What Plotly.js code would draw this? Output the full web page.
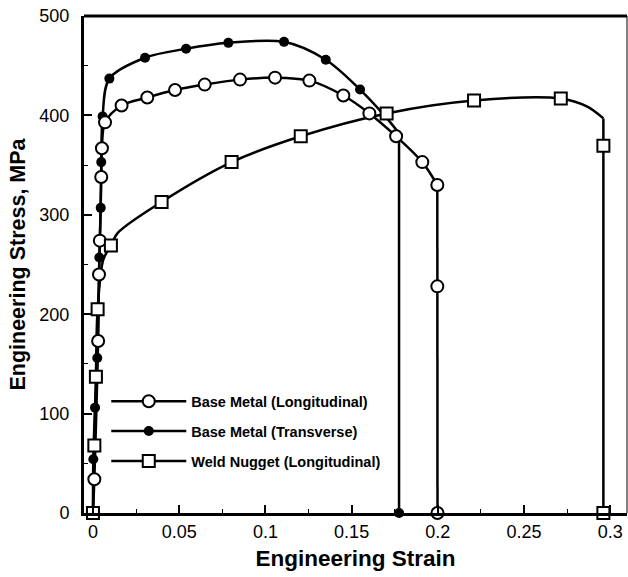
<!DOCTYPE html>
<html>
<head>
<meta charset="utf-8">
<script src="https://cdn.plot.ly/plotly-3.0.1.min.js"></script>
<style>html,body{margin:0;padding:0;background:#fff;}#chart{width:628px;height:577px;}</style>
</head>
<body>
<div id="chart"></div>
<script>
// ---- Data ----
// Base Metal (Longitudinal): curve path and marker points
var blCurveStrain = [0, 0.0008, 0.003, 0.0035, 0.004, 0.0048, 0.0052, 0.007, 0.0166, 0.0315, 0.0476, 0.0648, 0.0853, 0.1056, 0.1255, 0.1452, 0.1603, 0.1758, 0.191, 0.1997];
var blCurveStress = [0, 34, 173, 240, 274, 338, 367, 393, 410, 418, 425.5, 431, 436, 438, 435, 420, 402, 379, 353, 330];
var blDropStrain = [0.1997, 0.1997, 0.1998];
var blDropStress = [330, 228, 0];
var blMarkStrain = [0.0008, 0.003, 0.0035, 0.004, 0.0048, 0.0052, 0.007, 0.0166, 0.0315, 0.0476, 0.0648, 0.0853, 0.1056, 0.1255, 0.1452, 0.1603, 0.1758, 0.191, 0.1997, 0.1997, 0.1998];
var blMarkStress = [34, 173, 240, 274, 338, 367, 393, 410, 418, 425.5, 431, 436, 438, 435, 420, 402, 379, 353, 330, 228, 0];

// Base Metal (Transverse)
var btCurveStrain = [0, 0.0002, 0.0012, 0.0025, 0.0037, 0.0045, 0.0048, 0.0056, 0.0095, 0.0302, 0.054, 0.0785, 0.1108, 0.135, 0.1549, 0.170, 0.1775];
var btCurveStress = [0, 54, 106, 156, 257, 307, 353, 399, 437, 458, 467, 473, 474, 456, 426, 398, 382];
var btDropStrain = [0.1775, 0.1775];
var btDropStress = [382, 0];
var btMarkStrain = [0.0002, 0.0012, 0.0025, 0.0037, 0.0045, 0.0048, 0.0056, 0.0095, 0.0302, 0.054, 0.0785, 0.1108, 0.135, 0.1549, 0.1775];
var btMarkStress = [54, 106, 156, 257, 307, 353, 399, 437, 458, 467, 473, 474, 456, 426, 0];

// Weld Nugget (Longitudinal)
var wnCurveStrain = [0, 0.0008, 0.0017, 0.0027, 0.006, 0.0104, 0.0145, 0.0398, 0.0804, 0.1205, 0.1703, 0.221, 0.2713, 0.2864, 0.296];
var wnCurveStress = [0, 68, 137, 205, 255, 269, 282, 313, 353, 379, 402, 415, 417, 409, 397];
var wnDropStrain = [0.296, 0.296];
var wnDropStress = [397, 0];
var wnMarkStrain = [0, 0.0008, 0.0017, 0.0027, 0.0104, 0.0398, 0.0804, 0.1205, 0.1703, 0.221, 0.2713, 0.296, 0.296];
var wnMarkStress = [0, 68, 137, 205, 269, 313, 353, 379, 402, 415, 417, 369.5, 0];

var seriesNames = ['Base Metal (Longitudinal)', 'Base Metal (Transverse)', 'Weld Nugget (Longitudinal)'];
var xTitle = 'Engineering Strain';
var yTitle = 'Engineering Stress, MPa';

// ---- Styles ----
var LW = 2.5;
var openCircle = {symbol: 'circle', size: 12, color: '#ffffff', line: {color: '#000', width: 2}};
var filledCircle = {symbol: 'circle', size: 10, color: '#000000', line: {color: '#000', width: 0}};
var openSquare = {symbol: 'square', size: 12, color: '#ffffff', line: {color: '#000', width: 2}};

function lineTrace(x, y, shape) {
  return {x: x, y: y, mode: 'lines', line: {color: '#000', width: LW, shape: shape, smoothing: 0.9}, showlegend: false, hoverinfo: 'skip'};
}
function markTrace(x, y, m) {
  return {x: x, y: y, mode: 'markers', marker: m, showlegend: false, cliponaxis: false};
}
function legTrace(name, m, g) {
  return {x: [null], y: [null], name: name, mode: 'lines+markers', line: {color: '#000', width: LW}, marker: m, legendgroup: g, showlegend: true};
}

var data = [
  lineTrace(blCurveStrain, blCurveStress, 'spline'),
  lineTrace(blDropStrain, blDropStress, 'linear'),
  lineTrace(btCurveStrain, btCurveStress, 'spline'),
  lineTrace(btDropStrain, btDropStress, 'linear'),
  lineTrace(wnCurveStrain, wnCurveStress, 'spline'),
  lineTrace(wnDropStrain, wnDropStress, 'linear'),
  markTrace(btMarkStrain, btMarkStress, filledCircle),
  markTrace(blMarkStrain, blMarkStress, openCircle),
  markTrace(wnMarkStrain, wnMarkStress, openSquare),
  legTrace(seriesNames[0], openCircle, 'a'),
  legTrace(seriesNames[1], filledCircle, 'b'),
  legTrace(seriesNames[2], openSquare, 'c')
];

var layout = {
  width: 628, height: 577,
  margin: {l: 84, r: 1, t: 16, b: 64},
  paper_bgcolor: '#fff', plot_bgcolor: '#fff',
  font: {family: 'Arial, "Liberation Sans", sans-serif', color: '#000', size: 18},
  showlegend: true,
  legend: {
    x: 0.041, y: 0.257, xanchor: 'left', yanchor: 'top',
    bgcolor: 'rgba(0,0,0,0)', borderwidth: 0,
    font: {size: 14.5, family: 'Arial, "Liberation Sans", sans-serif', weight: 'bold', color: '#000'},
    itemwidth: 75, tracegroupgap: 8, traceorder: 'grouped'
  },
  xaxis: {
    range: [-0.0052, 0.3097], autorange: false,
    dtick: 0.05, tick0: 0,
    ticks: 'inside', ticklen: 8, tickwidth: 2, tickcolor: '#000',
    minor: {dtick: 0.025, ticks: 'inside', ticklen: 4, tickwidth: 1, tickcolor: '#000'},
    showgrid: false, zeroline: false,
    showline: true, linecolor: '#000', linewidth: 3,
    mirror: false,
    tickfont: {size: 18},
    title: {text: xTitle, font: {size: 22.5, weight: 'bold'}, standoff: 10}
  },
  yaxis: {
    range: [0, 500], autorange: false,
    dtick: 100, tick0: 0,
    ticks: 'inside', ticklen: 8, tickwidth: 2, tickcolor: '#000',
    minor: {dtick: 50, ticks: 'inside', ticklen: 4, tickwidth: 1, tickcolor: '#000'},
    showgrid: false, zeroline: false,
    showline: true, linecolor: '#000', linewidth: 3,
    ticklabelstandoff: 8,
    tickfont: {size: 18},
    title: {text: yTitle, font: {size: 21.5, weight: 'bold'}, standoff: 8}
  },
  shapes: [
    {type: 'line', xref: 'paper', yref: 'paper', x0: 0, x1: 1, y0: 1, y1: 1, line: {color: '#000', width: 3}},
    {type: 'line', xref: 'paper', yref: 'paper', x0: 1, x1: 1, y0: 0, y1: 1, line: {color: '#000', width: 1}}
  ]
};

Plotly.newPlot('chart', data, layout, {displayModeBar: false, staticPlot: true});
</script>
</body>
</html>
